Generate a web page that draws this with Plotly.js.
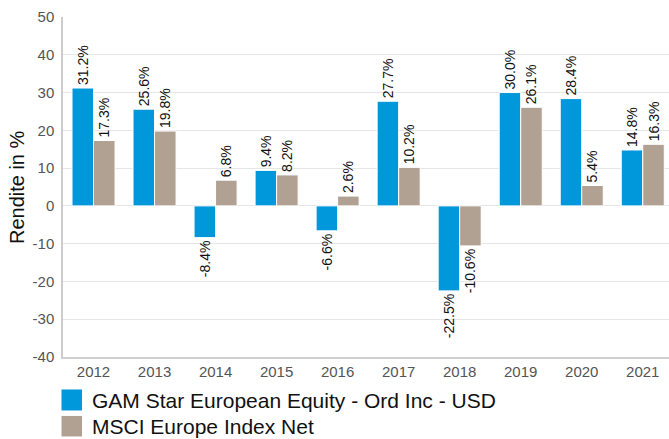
<!DOCTYPE html>
<html>
<head>
<meta charset="utf-8">
<script src="https://cdn.plot.ly/plotly-3.0.1.min.js"></script>
<style>html,body{margin:0;padding:0;background:#fff;}#chart{width:669px;height:439px;}</style>
</head>
<body>
<div id="chart"></div>
<script>
const years = ['2012','2013','2014','2015','2016','2017','2018','2019','2020','2021'];
const fundName = 'GAM Star European Equity - Ord Inc - USD';
const fundValues = [31.2, 25.6, -8.4, 9.4, -6.6, 27.7, -22.5, 30.0, 28.4, 14.8];
const indexName = 'MSCI Europe Index Net';
const indexValues = [17.3, 19.8, 6.8, 8.2, 2.6, 10.2, -10.6, 26.1, 5.4, 16.3];
const yTicks = [50, 40, 30, 20, 10, 0, -10, -20, -30, -40];
const yTitle = 'Rendite in %';

const fundColor = '#0098da';
const indexColor = '#b0a192';
const font = 'Liberation Sans, Arial, sans-serif';

function fmt(v){ return v.toFixed(1) + '%'; }

const common = {
  type: 'bar',
  textposition: 'outside',
  textangle: -90,
  cliponaxis: false,
  constraintext: 'none',
  outsidetextfont: {family: font, size: 14, color: '#111'},
  showlegend: false,
  hoverinfo: 'x+y'
};

const traces = [
  Object.assign({}, common, {
    x: years, y: fundValues, name: fundName,
    text: fundValues.map(fmt),
    marker: {color: fundColor, line: {color: '#ffffff', width: 1}}
  }),
  Object.assign({}, common, {
    x: years, y: indexValues, name: indexName,
    text: indexValues.map(fmt),
    marker: {color: indexColor, line: {color: '#ffffff', width: 1}}
  })
];

// legend drawn as squares + text below plot (paper coords)
const plotH = 340.2, plotW = 605.5, plotL = 63.5, plotB = 357.5;
function px2x(p){ return (p - plotL) / plotW; }
function px2y(p){ return (plotB - p) / plotH; }

const legendItems = [
  {name: fundName, color: fundColor, top: 390, bottom: 411},
  {name: indexName, color: indexColor, top: 416.5, bottom: 437}
];

const shapes = legendItems.map(it => ({
  type: 'rect', xref: 'paper', yref: 'paper',
  x0: px2x(62), x1: px2x(82.5), y0: px2y(it.bottom), y1: px2y(it.top),
  fillcolor: it.color, line: {width: 0}
}));
const annotations = legendItems.map(it => ({
  xref: 'paper', yref: 'paper', x: px2x(90), y: px2y((it.top + it.bottom) / 2 + 0.5),
  xanchor: 'left', yanchor: 'middle', showarrow: false,
  text: it.name, font: {family: font, size: 21, color: '#111'}
}));
annotations.push({
  xref: 'paper', yref: 'paper', x: px2x(17.5), y: px2y(187.5),
  xanchor: 'center', yanchor: 'middle', showarrow: false, textangle: -90,
  text: yTitle, font: {family: font, size: 20, color: '#111'}
});

const layout = {
  width: 669, height: 439,
  margin: {l: 63, r: 0, t: 17, b: 82, pad: 0},
  paper_bgcolor: '#fff', plot_bgcolor: '#fff',
  font: {family: font},
  barmode: 'group', bargap: 0.295, bargroupgap: 0,
  xaxis: {
    type: 'category', range: [-0.5, 9.43],
    showgrid: false, showline: true, linecolor: '#d0d0d0', linewidth: 2,
    ticks: '', tickfont: {family: font, size: 15, color: '#555'},
    fixedrange: true
  },
  yaxis: {
    range: [-40, 50], tickvals: yTicks, ticktext: yTicks.map(String),
    showgrid: true, gridcolor: '#e6e6e6', gridwidth: 1,
    zeroline: true, zerolinecolor: '#e6e6e6', zerolinewidth: 1,
    showline: true, linecolor: '#cccccc', linewidth: 1.5,
    ticks: '', ticklabelstandoff: 4,
    tickfont: {family: font, size: 15, color: '#555'},
    automargin: false, fixedrange: true
  },
  shapes: shapes,
  annotations: annotations
};

Plotly.newPlot('chart', traces, layout, {displayModeBar: false, staticPlot: false});
</script>
</body>
</html>
